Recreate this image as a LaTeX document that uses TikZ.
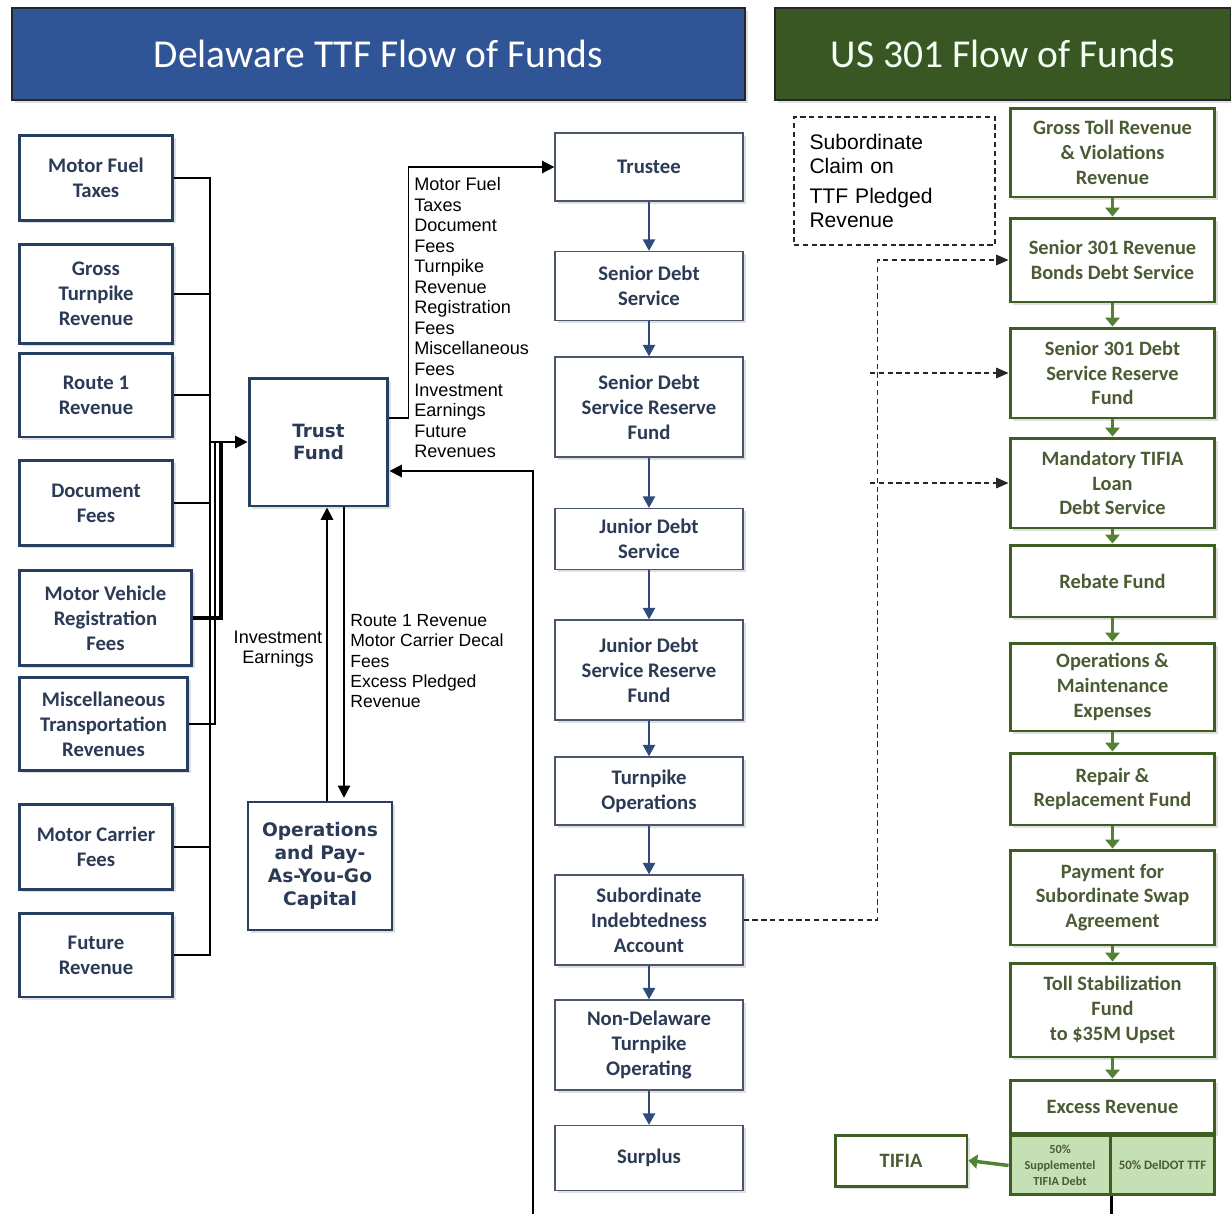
\documentclass[tikz,border=0pt]{standalone}
\usepackage{fontspec}
\setmainfont{Carlito}
\newfontfamily\arialfont{Liberation Sans}
\newfontfamily\verdfont{DejaVu Sans}
\usetikzlibrary{arrows.meta,shadows,positioning}
\definecolor{ttfblue}{HTML}{2F5597}
\definecolor{usgreen}{HTML}{385723}
\definecolor{navyline}{HTML}{243F60}
\definecolor{slateline}{HTML}{4A5670}
\definecolor{navytext}{HTML}{2B3A55}
\definecolor{oliveline}{HTML}{3F5F22}
\definecolor{olivetext}{HTML}{4B5B33}
\definecolor{arrowgreen}{HTML}{548235}
\definecolor{cellgreen}{HTML}{C5E0B4}
\definecolor{arrownavy}{HTML}{2F4B7C}
\tikzstyle{boxshadow} = [drop shadow={shadow xshift=1.5pt, shadow yshift=-1.5pt, opacity=0.25}]
\tikzstyle{header} = [draw=black!85, line width=1.6pt, minimum height=1.84cm,
    font=\fontsize{22.5}{26}\selectfont, boxshadow]
\tikzstyle{srcbox} = [draw=navyline, line width=1.7pt, fill=white, text=navytext,
    align=center, font=\bfseries\fontsize{11.8}{14.2}\selectfont, boxshadow]
\tikzstyle{stagebox} = [draw=slateline, line width=0.8pt, fill=white, text=navytext,
    minimum width=3.76cm, align=center, font=\bfseries\fontsize{11.8}{14.2}\selectfont, boxshadow]
\tikzstyle{fundbox} = [draw=navyline, fill=white, text=navytext, align=center,
    font=\verdfont\bfseries\fontsize{10.4}{12.8}\selectfont, boxshadow]
\tikzstyle{greenbox} = [draw=oliveline, line width=1.7pt, fill=white, text=olivetext,
    minimum width=4.1cm, align=center, font=\bfseries\fontsize{11.6}{14}\selectfont, boxshadow]
\tikzstyle{greencell} = [draw=oliveline, line width=1.7pt, fill=cellgreen, text=olivetext,
    minimum height=1.18cm, inner sep=1pt, align=center, font=\bfseries\fontsize{7}{9}\selectfont]
\tikzstyle{flowlabel} = [inner sep=0pt, align=left, font=\arialfont\fontsize{10.3}{11.7}\selectfont]
\tikzstyle{navyarrow} = [draw=arrownavy, line width=0.9pt, -{Triangle[width=7pt,length=6.5pt]}]
\tikzstyle{greenarrow} = [draw=arrowgreen, line width=2pt, -{Triangle[width=8pt,length=5pt]}]
\tikzstyle{blackline} = [draw=black, line width=1.1pt]
\tikzstyle{blackarrow} = [blackline, -{Triangle[width=7pt,length=7pt]}]
\tikzstyle{claimline} = [draw=black!85, line width=0.8pt, dash pattern=on 3pt off 2pt]
\tikzstyle{claimarrow} = [claimline, -{Triangle[width=6pt,length=7pt]}]

\begin{document}
\begin{tikzpicture}[x=0.02cm, y=-0.02cm]
\useasboundingbox (0,0) rectangle (1231,1214);

\node[header, fill=ttfblue, text=white, minimum width=14.66cm] (ttfhead) at (378.5,54) {Delaware TTF Flow of Funds};
\node[header, fill=usgreen, text=green!5!white, minimum width=9.12cm] (ushead) at (1003,54) {US 301 Flow of Funds};

\node[srcbox, minimum width=3.08cm, minimum height=1.7cm] (fuel) at (96,178) {Motor Fuel\\Taxes};
\node[srcbox, minimum width=3.08cm, minimum height=1.98cm] (turnpike) at (96,294) {Gross\\Turnpike\\Revenue};
\node[srcbox, minimum width=3.08cm, minimum height=1.68cm] (route) at (96,395) {Route 1\\Revenue};
\node[srcbox, minimum width=3.08cm, minimum height=1.7cm] (document) at (96,503) {Document\\Fees};
\node[srcbox, minimum width=3.46cm, minimum height=1.9cm] (vehicle) at (105.5,618) {Motor Vehicle\\Registration\\Fees};
\node[srcbox, minimum width=3.38cm, minimum height=1.86cm] (misc) at (103.5,724) {Miscellaneous\\Transportation\\Revenues};
\node[srcbox, minimum width=3.08cm, minimum height=1.7cm] (carrier) at (96,847) {Motor Carrier\\Fees};
\node[srcbox, minimum width=3.08cm, minimum height=1.68cm] (future) at (96,955) {Future\\Revenue};

\node[fundbox, line width=1.7pt, minimum width=2.78cm, minimum height=2.56cm] (tf) at (318.5,442) {Trust\\Fund};
\node[fundbox, line width=0.8pt, minimum width=2.88cm, minimum height=2.56cm,
    font=\verdfont\bfseries\fontsize{10.6}{13.2}\selectfont] (ops) at (320,866) {Operations\\and Pay-\\As-You-Go\\Capital};

\node[stagebox, minimum height=1.36cm] (trustee) at (649,167) {Trustee};
\node[stagebox, minimum height=1.38cm] (senior) at (649,286) {Senior Debt\\Service};
\node[stagebox, minimum height=2cm] (seniorres) at (649,407) {Senior Debt\\Service Reserve\\Fund};
\node[stagebox, minimum height=1.22cm] (junior) at (649,539) {Junior Debt\\Service};
\node[stagebox, minimum height=2cm] (juniorres) at (649,670) {Junior Debt\\Service Reserve\\Fund};
\node[stagebox, minimum height=1.36cm] (turnops) at (649,791) {Turnpike\\Operations};
\node[stagebox, minimum height=1.8cm] (sia) at (649,920) {Subordinate\\Indebtedness\\Account};
\node[stagebox, minimum height=1.8cm] (nondel) at (649,1045) {Non-Delaware\\Turnpike\\Operating};
\node[stagebox, minimum height=1.3cm] (surplus) at (649,1158) {Surplus};

\node[draw, claimline, minimum width=4.02cm, minimum height=2.56cm, text width=3.4cm, align=left,
    font=\arialfont\fontsize{12}{13.6}\selectfont] (claim) at (894.5,181) {Subordinate\\Claim on\\[4pt]TTF Pledged\\Revenue};

\node[greenbox, minimum height=1.78cm] (gross) at (1112.5,152.5) {Gross Toll Revenue\\\& Violations\\Revenue};
\node[greenbox, minimum height=1.68cm] (s301) at (1112.5,260) {Senior 301 Revenue\\Bonds Debt Service};
\node[greenbox, minimum height=1.8cm] (s301res) at (1112.5,373) {Senior 301 Debt\\Service Reserve\\Fund};
\node[greenbox, minimum height=1.8cm] (tifialoan) at (1112.5,483) {Mandatory TIFIA\\Loan\\Debt Service};
\node[greenbox, minimum height=1.44cm] (rebate) at (1112.5,581) {Rebate Fund};
\node[greenbox, minimum height=1.76cm] (opsmaint) at (1112.5,687) {Operations \&\\Maintenance\\Expenses};
\node[greenbox, minimum height=1.44cm] (repair) at (1112.5,789) {Repair \&\\Replacement Fund};
\node[greenbox, minimum height=1.9cm] (swap) at (1112.5,897.5) {Payment for\\Subordinate Swap\\Agreement};
\node[greenbox, minimum height=1.88cm] (tollstab) at (1112.5,1010) {Toll Stabilization\\Fund\\to \$35M Upset};
\node[greenbox, minimum height=1.06cm] (excess) at (1112.5,1106.5) {Excess Revenue};
\node[greencell, anchor=north west, minimum width=2cm] (supp) at (excess.south west) {50\%\\Supplementel\\TIFIA Debt};
\node[greencell, anchor=north east, minimum width=2.1cm, font=\bfseries\fontsize{7.3}{9}\selectfont] (deldot) at (excess.south east) {50\% DelDOT TTF};
\node[greenbox, minimum width=2.64cm, minimum height=1.02cm] (tifia) at (901,1160.5) {TIFIA};

\coordinate (bus) at (210,0);
\coordinate (mbus) at (215,0);
\coordinate (vbus) at (221,0);
\draw[blackline] (fuel.east) -- (fuel.east -| bus) -- (future.east -| bus) -- (future.east);
\draw[blackline] (turnpike.east) -- (turnpike.east -| bus);
\draw[blackline] (route.east) -- (route.east -| bus);
\draw[blackline] (document.east) -- (document.east -| bus);
\draw[blackline] (carrier.east) -- (carrier.east -| bus);
\draw[blackline] (misc.east) -| (mbus |- tf.west);
\draw[blackline, line width=2pt] (vehicle.east) -| (vbus |- tf.west);
\draw[blackarrow] (bus |- tf.west) -- (tf.west);

\draw[blackarrow] ([yshift=0.48cm]tf.east) -- ++(19,0) |- (trustee.west);
\node[flowlabel, anchor=north west] (tflabel) at (414,177) {Motor Fuel\\Taxes\\Document\\Fees\\Turnpike\\Revenue\\Registration\\Fees\\Miscellaneous\\Fees\\Investment\\Earnings\\Future\\Revenues};
\coordinate (retin) at (533,1214);
\draw[blackarrow] (retin) |- ([yshift=-0.58cm]tf.east);

\coordinate (invx) at (327,0);
\coordinate (payx) at (344,0);
\draw[blackarrow] (ops.north -| invx) -- (tf.south -| invx);
\draw[blackarrow, shorten >=2pt] (tf.south -| payx) -- (ops.north -| payx);
\node[flowlabel, align=center] (invlabel) at (278,649) {Investment\\Earnings};
\node[flowlabel, anchor=north west, font=\arialfont\fontsize{10}{11.6}\selectfont] (paylabel) at (350,614) {Route 1 Revenue\\Motor Carrier Decal\\Fees\\Excess Pledged\\Revenue};

\draw[navyarrow] (trustee.south) -- (senior.north);
\draw[navyarrow] (senior.south) -- (seniorres.north);
\draw[navyarrow] (seniorres.south) -- (junior.north);
\draw[navyarrow] (junior.south) -- (juniorres.north);
\draw[navyarrow] (juniorres.south) -- (turnops.north);
\draw[navyarrow] (turnops.south) -- (sia.north);
\draw[navyarrow] (sia.south) -- (nondel.north);
\draw[navyarrow] (nondel.south) -- (surplus.north);

\coordinate (claimx) at (870,0);
\draw[claimarrow] (sia.east) -- ++(134,0) |- (s301.west);
\draw[claimarrow] (claimx |- s301res.west) -- (s301res.west);
\draw[claimarrow] (claimx |- tifialoan.west) -- (tifialoan.west);

\draw[greenarrow] (gross.south) -- (s301.north);
\draw[greenarrow] (s301.south) -- (s301res.north);
\draw[greenarrow] (s301res.south) -- (tifialoan.north);
\draw[greenarrow] (tifialoan.south) -- (rebate.north);
\draw[greenarrow] (rebate.south) -- (opsmaint.north);
\draw[greenarrow] (opsmaint.south) -- (repair.north);
\draw[greenarrow] (repair.south) -- (swap.north);
\draw[greenarrow] (swap.south) -- (tollstab.north);
\draw[greenarrow] (tollstab.south) -- (excess.north);
\draw[greenarrow] (supp.west) -- (tifia.east);

\coordinate (ttfout) at (1110,1214);
\draw[blackline, line width=1.4pt] (supp.south east) -- (supp.south east |- ttfout);
\end{tikzpicture}
\end{document}
